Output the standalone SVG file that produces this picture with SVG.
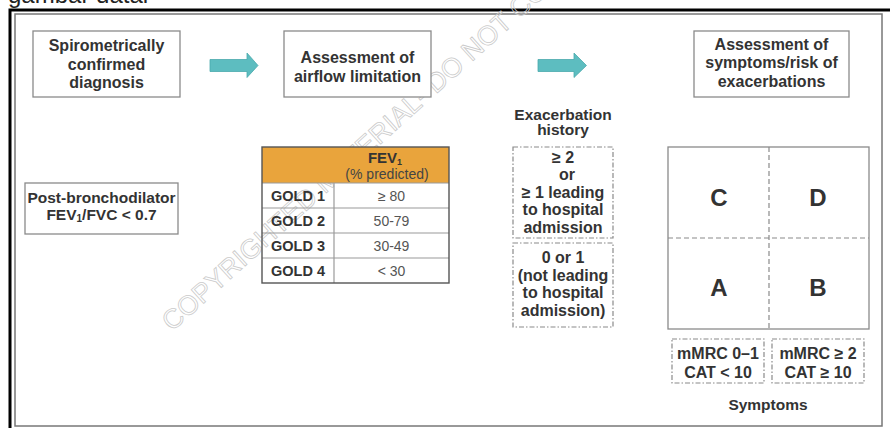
<svg xmlns="http://www.w3.org/2000/svg" width="890" height="428" viewBox="0 0 890 428">
<style>
.box{fill:#fff;stroke:#8a8a8a;stroke-width:1.3}
.t{font-family:"Liberation Sans",Arial,sans-serif;font-weight:bold;fill:#333;text-anchor:middle;font-size:16px}
.n{font-family:"Liberation Sans",Arial,sans-serif;font-weight:normal;fill:#555;text-anchor:middle;font-size:14px}
.dash{fill:#fff;stroke:#8a8a8a;stroke-width:1.2;stroke-dasharray:5 2 1.5 2}
.grid{fill:none;stroke:#8a8a8a;stroke-width:1.2;stroke-dasharray:5 3}
.arrow{fill:#5dbdc0;stroke:#4aa9ac;stroke-width:0.8}
.tl{stroke:#9a9a9a;stroke-width:1.2}
.wm{font-family:"Liberation Sans",Arial,sans-serif;font-size:27px;fill:none;stroke:#cacaca;stroke-width:0.8}
</style>
<rect width="890" height="428" fill="#fff"/>
<text x="8" y="3" style="font-family:'Liberation Sans',Arial,sans-serif;font-size:24px;fill:#222">gambar datar</text>
<g id="frame">
<path d="M10,428 V10 H890" fill="none" stroke="#000" stroke-width="3"/>
<rect x="15" y="14" width="867" height="412" fill="none" stroke="#777" stroke-width="1.5"/>
</g>
<text class="wm" transform="translate(172,332) rotate(-42)">COPYRIGHTED MATERIAL- DO NOT COPY</text>
<g id="connectors">
<polygon class="arrow" points="210,59.5 247,59.5 247,53 258,65.5 247,77.5 247,71.5 210,71.5"/>
<polygon class="arrow" points="538,59.5 574,59.5 574,53 586.5,65.5 574,77.5 574,71.5 538,71.5"/>
</g>
<g id="spiro">
<rect class="box" x="33" y="31" width="147" height="66"/>
<text class="t" x="106.5" y="51">Spirometrically</text>
<text class="t" x="106.5" y="69.5">confirmed</text>
<text class="t" x="106.5" y="88">diagnosis</text>
</g>
<g id="airflow">
<rect class="box" x="284" y="31" width="147" height="66"/>
<text class="t" x="357.5" y="63">Assessment of</text>
<text class="t" x="357.5" y="81.5">airflow limitation</text>
</g>
<g id="assess-symptoms">
<rect class="box" x="694" y="31" width="155" height="66"/>
<text class="t" x="771.5" y="50">Assessment of</text>
<text class="t" x="771.5" y="68">symptoms/risk of</text>
<text class="t" x="771.5" y="86.5">exacerbations</text>
</g>
<g id="postbd">
<rect class="box" x="25" y="183" width="153" height="51"/>
<text class="t" x="101.5" y="203" style="font-size:15.5px">Post-bronchodilator</text>
<text class="t" x="101.5" y="219.5" style="font-size:15.5px">FEV<tspan font-size="10" dy="2">1</tspan><tspan dy="-2">/FVC &lt; 0.7</tspan></text>
</g>
<g id="fev-table">
<rect x="262" y="147" width="187" height="36" fill="#e9a43c"/>
<line class="tl" x1="262" y1="183" x2="449" y2="183"/>
<line class="tl" x1="262" y1="208" x2="449" y2="208"/>
<line class="tl" x1="262" y1="233" x2="449" y2="233"/>
<line class="tl" x1="262" y1="258" x2="449" y2="258"/>
<line class="tl" x1="334" y1="183" x2="334" y2="283"/>
<rect x="262" y="147" width="187" height="136" fill="none" stroke="#555" stroke-width="1.4"/>
<text class="t" x="385" y="163" style="font-size:15px">FEV<tspan font-size="9" dy="2">1</tspan></text>
<text class="n" x="387" y="179" style="fill:#444">(% predicted)</text>
<text class="t" x="298" y="200.5" style="font-size:14.5px">GOLD 1</text>
<text class="t" x="298" y="225.5" style="font-size:14.5px">GOLD 2</text>
<text class="t" x="298" y="250.5" style="font-size:14.5px">GOLD 3</text>
<text class="t" x="298" y="275.5" style="font-size:14.5px">GOLD 4</text>
<text class="n" x="391.5" y="200.5">≥ 80</text>
<text class="n" x="391.5" y="225.5">50-79</text>
<text class="n" x="391.5" y="250.5">30-49</text>
<text class="n" x="391.5" y="275.5">&lt; 30</text>
</g>
<g id="exac-label">
<text class="t" x="563" y="119.5" style="font-size:15.5px">Exacerbation</text>
<text class="t" x="563" y="135" style="font-size:15.5px">history</text>
</g>
<g id="exac-high">
<rect class="dash" x="513" y="147" width="100" height="91"/>
<text class="t" x="563" y="162.5">≥ 2</text>
<text class="t" x="567" y="180">or</text>
<text class="t" x="563" y="197.5">≥ 1 leading</text>
<text class="t" x="563" y="215">to hospital</text>
<text class="t" x="563" y="232.5">admission</text>
</g>
<g id="exac-low">
<rect class="dash" x="513" y="243" width="100" height="84"/>
<text class="t" x="563" y="263">0 or 1</text>
<text class="t" x="563" y="280.5">(not leading</text>
<text class="t" x="563" y="298">to hospital</text>
<text class="t" x="563" y="315.5">admission)</text>
</g>
<g id="abcd-grid">
<rect x="668" y="147" width="201" height="182" fill="#fff" stroke="#8a8a8a" stroke-width="1.3"/>
<line class="grid" x1="769" y1="147" x2="769" y2="329"/>
<line class="grid" x1="668" y1="238" x2="869" y2="238"/>
<text class="t" x="719" y="205.5" style="font-size:24px">C</text>
<text class="t" x="818" y="205.5" style="font-size:24px">D</text>
<text class="t" x="719" y="296" style="font-size:24px">A</text>
<text class="t" x="818" y="296" style="font-size:24px">B</text>
</g>
<g id="sym-low">
<rect class="dash" x="672" y="339" width="92" height="44"/>
<text class="t" x="718" y="358.5">mMRC 0–1</text>
<text class="t" x="718" y="378">CAT &lt; 10</text>
</g>
<g id="sym-high">
<rect class="dash" x="772" y="339" width="92" height="44"/>
<text class="t" x="818" y="358.5">mMRC ≥ 2</text>
<text class="t" x="818" y="378">CAT ≥ 10</text>
</g>
<g id="sym-label">
<text class="t" x="768" y="410" style="font-size:15.5px">Symptoms</text>
</g>
</svg>
